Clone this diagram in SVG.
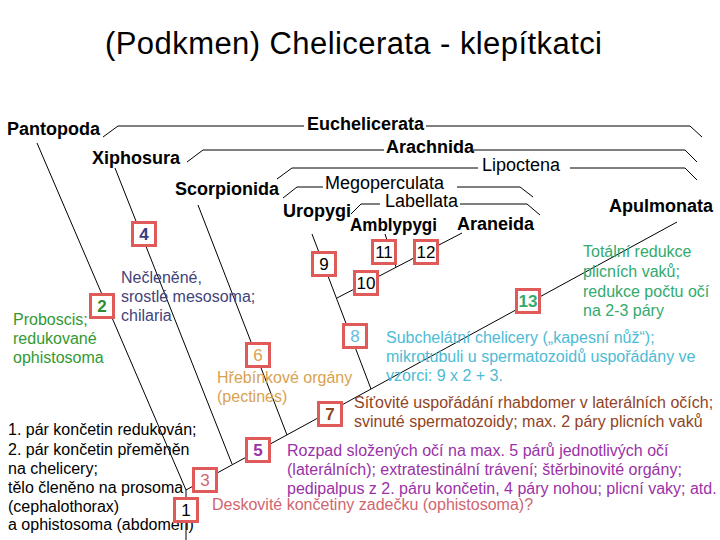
<svg xmlns="http://www.w3.org/2000/svg" width="720" height="540" viewBox="0 0 720 540">
<style>
text{font-family:"Liberation Sans",Arial,sans-serif}
.t{font-size:31px;fill:#000}
.b{font-size:18px;font-weight:bold;fill:#000}
.r{font-size:18px;fill:#000}
.s{font-size:16px}
.ln{stroke:#000;stroke-width:1;fill:none}
.box{fill:#fff;stroke:#E05A5A;stroke-width:3}
.n{font-size:17px;text-anchor:middle}
</style>
<rect width="720" height="540" fill="#fff"/>
<text class="t" x="105" y="54" textLength="497" lengthAdjust="spacing">(Podkmen) Chelicerata - klepítkatci</text>

<g id="connectors" class="ln">
<!-- brackets -->
<polyline points="103,137 118,126 304,126"/>
<polyline points="426,126 690,126 702,137"/>
<polyline points="187,162 203,150 384,150"/>
<polyline points="473,150 685,150 697,162"/>
<polyline points="277,179 292,168 478,168"/>
<polyline points="570,168 685,168 697,180"/>
<polyline points="283,198 297,187 323,187"/>
<polyline points="457,187 520,187 533,197"/>
<polyline points="351,214 361,204 380,204"/>
<polyline points="460,204 527,204 540,215"/>
<!-- tree -->
<line x1="186" y1="490" x2="186" y2="540"/>
<line x1="186" y1="490" x2="677" y2="222"/>
<line x1="37" y1="143" x2="186" y2="490"/>
<line x1="115" y1="168" x2="232" y2="464"/>
<line x1="198" y1="205" x2="287" y2="435"/>
<line x1="312" y1="234" x2="371" y2="389"/>
<line x1="337" y1="298" x2="462" y2="233"/>
<line x1="385" y1="234" x2="396" y2="267"/>
</g>

<g id="labels">
<text class="b" x="7" y="135">Pantopoda</text>
<text class="b" x="307" y="130">Euchelicerata</text>
<text class="b" x="92" y="164">Xiphosura</text>
<text class="b" x="386" y="153">Arachnida</text>
<text class="b" x="175" y="195">Scorpionida</text>
<text class="r" x="482" y="171">Lipoctena</text>
<text class="r" x="325" y="189">Megoperculata</text>
<text class="r" x="385" y="207">Labellata</text>
<text class="b" x="283" y="217">Uropygi</text>
<text class="b" x="350" y="231" textLength="87" lengthAdjust="spacingAndGlyphs">Amblypygi</text>
<text class="b" x="457" y="230">Araneida</text>
<text class="b" x="609" y="212">Apulmonata</text>
</g>

<g id="notes" class="s">
<text fill="#339933"><tspan x="13" y="325">Proboscis;</tspan><tspan x="13" y="344">redukované</tspan><tspan x="13" y="363">ophistosoma</tspan></text>
<text fill="#43437A"><tspan x="121" y="283">Nečleněné,</tspan><tspan x="121" y="302">srostlé mesosoma;</tspan><tspan x="121" y="321">chilaria</tspan></text>
<text fill="#D9A24F"><tspan x="217" y="383">Hřebínkové orgány</tspan><tspan x="217" y="402">(pectines)</tspan></text>
<text fill="#4DBBD5"><tspan x="386" y="343">Subchelátní chelicery („kapesní nůž“);</tspan><tspan x="386" y="362">mikrotubuli u spermatozoidů uspořádány ve</tspan><tspan x="386" y="381">vzorci: 9 x 2 + 3.</tspan></text>
<text fill="#33AA6E"><tspan x="583" y="257">Totální redukce</tspan><tspan x="583" y="277">plicních vaků;</tspan><tspan x="583" y="297">redukce počtu očí</tspan><tspan x="583" y="316">na 2-3 páry</tspan></text>
<text fill="#91441F"><tspan x="354" y="408">Síťovité uspořádání rhabdomer v laterálních očích;</tspan><tspan x="354" y="427">svinuté spermatozoidy; max. 2 páry plicních vaků</tspan></text>
<text fill="#9A32A8"><tspan x="287" y="456">Rozpad složených očí na max. 5 párů jednotlivých očí</tspan><tspan x="287" y="475">(laterálních); extratestinální trávení; štěrbinovité orgány;</tspan><tspan x="287" y="494">pedipalpus z 2. páru končetin, 4 páry nohou; plicní vaky; atd.</tspan></text>
<text fill="#D06670" x="212" y="510">Deskovité končetiny zadečku (ophistosoma)?</text>
<text fill="#000"><tspan x="8" y="435">1. pár končetin redukován;</tspan><tspan x="8" y="455">2. pár končetin přeměněn</tspan><tspan x="8" y="474">na chelicery;</tspan><tspan x="8" y="493">tělo členěno na prosoma</tspan><tspan x="8" y="512">(cephalothorax)</tspan><tspan x="8" y="530">a ophistosoma (abdomen)</tspan></text>
</g>

<g id="node-1"><rect class="box" x="174.5" y="498.5" width="23" height="23"/><text class="n" x="186" y="516" fill="#000">1</text></g>
<g id="node-2"><rect class="box" x="90.5" y="294.5" width="23" height="23"/><text class="n" x="102" y="312" fill="#2E8B2E" font-weight="bold">2</text></g>
<g id="node-3"><rect class="box" x="193.5" y="468.5" width="23" height="23"/><text class="n" x="205" y="486" fill="#D06670">3</text></g>
<g id="node-4"><rect class="box" x="132.5" y="222.5" width="23" height="23"/><text class="n" x="144" y="240" fill="#3A3A80" font-weight="bold">4</text></g>
<g id="node-5"><rect class="box" x="246.5" y="438.5" width="23" height="23"/><text class="n" x="258" y="456" fill="#9A32A8" font-weight="bold">5</text></g>
<g id="node-6"><rect class="box" x="246.5" y="343.5" width="23" height="23"/><text class="n" x="258" y="361" fill="#D9A24F">6</text></g>
<g id="node-7"><rect class="box" x="318.5" y="402.5" width="23" height="23"/><text class="n" x="330" y="420" fill="#91441F" font-weight="bold">7</text></g>
<g id="node-8"><rect class="box" x="343.5" y="324.5" width="23" height="23"/><text class="n" x="355" y="342" fill="#66BBDD">8</text></g>
<g id="node-9"><rect class="box" x="312.5" y="252.5" width="23" height="23"/><text class="n" x="324" y="270" fill="#000">9</text></g>
<g id="node-10"><rect class="box" x="354.5" y="271.5" width="23" height="23"/><text class="n" x="366" y="289" fill="#000">10</text></g>
<g id="node-11"><rect class="box" x="372.5" y="240.5" width="23" height="23"/><text class="n" x="384" y="258" fill="#000">11</text></g>
<g id="node-12"><rect class="box" x="414.5" y="240.5" width="23" height="23"/><text class="n" x="426" y="258" fill="#000">12</text></g>
<g id="node-13"><rect class="box" x="516.5" y="289.5" width="23" height="23"/><text class="n" x="528" y="307" fill="#33AA6E" font-weight="bold">13</text></g>
</svg>
